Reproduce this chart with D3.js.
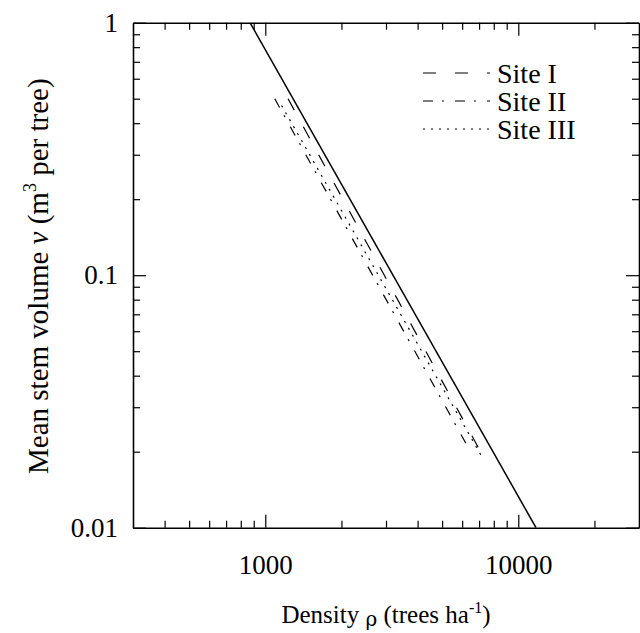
<!DOCTYPE html>
<html lang="en">
<head>
    <meta charset="UTF-8">
    <title>Mean stem volume vs density</title>
    <style>
        body { margin: 0; background: #fff; }
        text { font-family: "Liberation Serif", "Times New Roman", serif; fill: #000; }
    </style>
</head>
<body>
<script src="https://d3js.org/d3.v7.min.js"></script>
<script>
    // tick values
    const xMajorTicks = [1000, 10000];
    const xMinorTicks = [400, 500, 600, 700, 800, 900, 2000, 3000, 4000, 5000, 6000, 7000, 8000, 9000, 20000];
    const yMajorTicks = [0.01, 0.1, 1];
    const yMinorTicks = [0.02, 0.03, 0.04, 0.05, 0.06, 0.07, 0.08, 0.09, 0.2, 0.3, 0.4, 0.5, 0.6, 0.7, 0.8, 0.9];

    // solid reference line
    const solidDensity = [870, 11750];
    const solidVolume = [1, 0.01];

    // site lines (start and end)
    const siteNames = ["Site I", "Site II", "Site III"];
    const site1Density = [1230, 7000];
    const site1Volume = [0.5, 0.0205];
    const site2Density = [1090, 6300];
    const site2Volume = [0.5, 0.021];
    const site3Density = [1160, 7200];
    const site3Volume = [0.47, 0.019];

    const width = 640, height = 633;
    const plotLeft = 133, plotRight = 639, plotTop = 22.7, plotBottom = 527.7;

    const svg = d3.select('body').append('svg')
        .attr('width', width)
        .attr('height', height);

    const x = d3.scaleLog().domain([300, 30000]).range([plotLeft, plotRight]);
    const y = d3.scaleLog().domain([0.01, 1]).range([plotBottom, plotTop]);

    const allX = xMajorTicks.concat(xMinorTicks);
    const allY = yMajorTicks.concat(yMinorTicks);
    const majorLen = 13, minorLen = 7;

    // clip for the data lines
    svg.append('clipPath').attr('id', 'plot')
        .append('rect')
        .attr('x', plotLeft).attr('y', plotTop)
        .attr('width', plotRight - plotLeft).attr('height', plotBottom - plotTop);

    function tickLen(list) {
        return d => list.includes(d) ? majorLen : minorLen;
    }

    // bottom axis, ticks pointing in
    const gBottom = svg.append('g')
        .attr('transform', `translate(0,${plotBottom})`)
        .call(d3.axisBottom(x)
            .tickValues(allX)
            .tickSizeOuter(0)
            .tickSizeInner(-minorLen)
            .tickPadding(27)
            .tickFormat(d => xMajorTicks.includes(d) ? d3.format('d')(d) : ''));
    gBottom.selectAll('.tick line').attr('y2', d => -tickLen(xMajorTicks)(d));

    // top axis
    const gTop = svg.append('g')
        .attr('transform', `translate(0,${plotTop})`)
        .call(d3.axisTop(x)
            .tickValues(allX)
            .tickSizeOuter(0)
            .tickSizeInner(-minorLen)
            .tickFormat(''));
    gTop.selectAll('.tick line').attr('y2', d => tickLen(xMajorTicks)(d));

    // left axis
    const gLeft = svg.append('g')
        .attr('transform', `translate(${plotLeft},0)`)
        .call(d3.axisLeft(y)
            .tickValues(allY)
            .tickSizeOuter(0)
            .tickSizeInner(-minorLen)
            .tickPadding(15)
            .tickFormat(d => yMajorTicks.includes(d) ? String(d) : ''));
    gLeft.selectAll('.tick line').attr('x2', d => tickLen(yMajorTicks)(d));

    // right axis
    const gRight = svg.append('g')
        .attr('transform', `translate(${plotRight},0)`)
        .call(d3.axisRight(y)
            .tickValues(allY)
            .tickSizeOuter(0)
            .tickSizeInner(-minorLen)
            .tickFormat(''));
    gRight.selectAll('.tick line').attr('x2', d => -tickLen(yMajorTicks)(d));

    svg.selectAll('.domain').attr('stroke', '#000').attr('stroke-width', 1.6);
    svg.selectAll('.tick line').attr('stroke', '#000').attr('stroke-width', 1.2);
    svg.selectAll('.tick text')
        .style('font-family', '"Liberation Serif", serif')
        .style('font-size', '27px')
        .attr('fill', '#000');

    // data lines
    const line = d3.line().x(d => x(d[0])).y(d => y(d[1]));
    const dashes = ['13,19', '10,9,2,11', '2,6'];

    const plot = svg.append('g').attr('clip-path', 'url(#plot)');

    plot.append('path')
        .datum(d3.zip(solidDensity, solidVolume))
        .attr('d', line)
        .attr('fill', 'none')
        .attr('stroke', '#000')
        .attr('stroke-width', 1.5);

    const sites = [
        d3.zip(site1Density, site1Volume),
        d3.zip(site2Density, site2Volume),
        d3.zip(site3Density, site3Volume)
    ];

    plot.selectAll('.site')
        .data(sites)
        .enter().append('path')
        .attr('class', 'site')
        .attr('d', line)
        .attr('fill', 'none')
        .attr('stroke', '#000')
        .attr('stroke-width', 1.2)
        .attr('stroke-dasharray', (d, i) => dashes[i]);

    // legend
    const legend = svg.append('g');
    siteNames.forEach((name, i) => {
        const ly = 73 + i * 28;
        legend.append('line')
            .attr('x1', 423).attr('x2', 490)
            .attr('y1', ly).attr('y2', ly)
            .attr('stroke', '#000')
            .attr('stroke-width', 1.2)
            .attr('stroke-dasharray', dashes[i]);
        legend.append('text')
            .attr('x', 497)
            .attr('y', ly)
            .attr('dy', '0.35em')
            .style('font-size', '28px')
            .text(name);
    });

    // axis titles
    const xTitle = svg.append('text')
        .attr('x', (plotLeft + plotRight) / 2)
        .attr('y', 623)
        .attr('text-anchor', 'middle')
        .style('font-size', '25px');
    xTitle.append('tspan').text('Density  ');
    xTitle.append('tspan').attr('dy', 3).style('font-family', '"DejaVu Serif", serif').style('font-size', '20px').text('ρ');
    xTitle.append('tspan').attr('dy', -3).text('  (trees ha');
    xTitle.append('tspan').attr('dy', -10).style('font-size', '16px').text('-1');
    xTitle.append('tspan').attr('dy', 10).text(')');

    const yTitle = svg.append('text')
        .attr('transform', `translate(48,${(plotTop + plotBottom) / 2 + 1}) rotate(-90)`)
        .attr('text-anchor', 'middle')
        .style('font-size', '29px');
    yTitle.append('tspan').text('Mean stem volume ');
    yTitle.append('tspan').style('font-style', 'italic').text('ν');
    yTitle.append('tspan').text('  (m');
    yTitle.append('tspan').attr('dy', -12).style('font-size', '18px').text('3');
    yTitle.append('tspan').attr('dy', 12).text(' per tree)');
</script>
</body>
</html>
